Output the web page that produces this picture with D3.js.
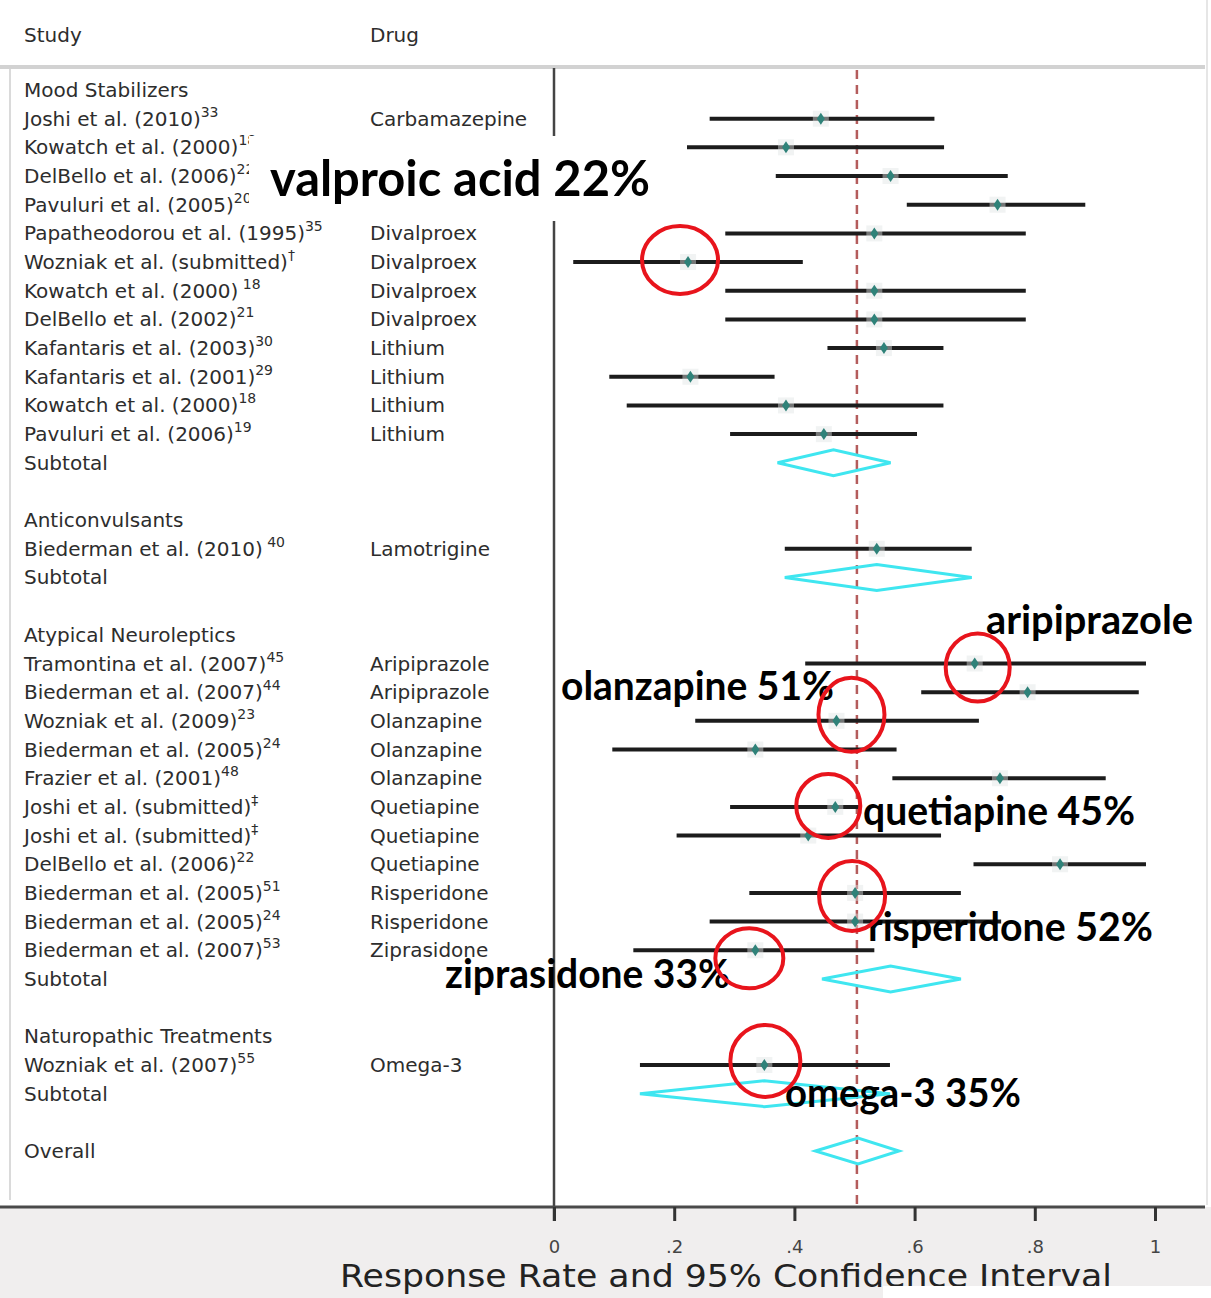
<!DOCTYPE html>
<html><head><meta charset="utf-8">
<script src="https://cdn.jsdelivr.net/npm/d3@7"></script>
<style>body{margin:0;background:#fff;overflow:hidden}</style>
</head><body>
<svg id="chart" width="1211" height="1298"></svg>
<script>
// ---------- data ----------
const rowLabels = ["Mood Stabilizers","Joshi et al. (2010)","Kowatch et al. (2000)","DelBello et al. (2006)","Pavuluri et al. (2005)","Papatheodorou et al. (1995)","Wozniak et al. (submitted)","Kowatch et al. (2000)","DelBello et al. (2002)","Kafantaris et al. (2003)","Kafantaris et al. (2001)","Kowatch et al. (2000)","Pavuluri et al. (2006)","Subtotal","","Anticonvulsants","Biederman et al. (2010)","Subtotal","","Atypical Neuroleptics","Tramontina et al. (2007)","Biederman et al. (2007)","Wozniak et al. (2009)","Biederman et al. (2005)","Frazier et al. (2001)","Joshi et al. (submitted)","Joshi et al. (submitted)","DelBello et al. (2006)","Biederman et al. (2005)","Biederman et al. (2005)","Biederman et al. (2007)","Subtotal","","Naturopathic Treatments","Wozniak et al. (2007)","Subtotal","","Overall"];
const rowSup = ["","33","18","22","20","35","\u2020"," 18","21","30","29","18","19","","",""," 40","","","","45","44","23","24","48","\u2021","\u2021","22","51","24","53","","","","55","","",""];
// drug names of rows 2-4 are covered by the "valproic acid" overlay in the reference
const rowDrugs = ["","Carbamazepine","","","","Divalproex","Divalproex","Divalproex","Divalproex","Lithium","Lithium","Lithium","Lithium","","","","Lamotrigine","","","","Aripiprazole","Aripiprazole","Olanzapine","Olanzapine","Olanzapine","Quetiapine","Quetiapine","Quetiapine","Risperidone","Risperidone","Ziprasidone","","","","Omega-3","","",""];
const rowKinds = ["head","study","study","study","study","study","study","study","study","study","study","study","study","sub","blank","head","study","sub","blank","head","study","study","study","study","study","study","study","study","study","study","study","sub","blank","head","study","sub","blank","sub"];
const rowEst  = [null,0.444,0.386,0.560,0.738,0.533,0.223,0.533,0.533,0.549,0.227,0.386,0.449,0.465,null,null,0.537,0.537,null,null,0.700,0.788,0.470,0.335,0.742,0.468,0.423,0.842,0.501,0.501,0.335,0.560,null,null,0.350,0.350,null,0.506];
const rowLow  = [null,0.259,0.221,0.369,0.587,0.285,0.032,0.285,0.285,0.455,0.092,0.121,0.293,0.372,null,null,0.384,0.384,null,null,0.418,0.611,0.235,0.097,0.563,0.293,0.204,0.698,0.325,0.259,0.132,0.446,null,null,0.143,0.143,null,0.435];
const rowHigh = [null,0.633,0.649,0.755,0.884,0.785,0.414,0.785,0.785,0.648,0.367,0.648,0.604,0.560,null,null,0.695,0.695,null,null,0.985,0.973,0.707,0.570,0.918,0.510,0.644,0.985,0.677,0.744,0.533,0.677,null,null,0.559,0.559,null,0.574];
const xTicks = [0, 0.2, 0.4, 0.6, 0.8, 1];
const xTickLabels = ["0", ".2", ".4", ".6", ".8", "1"];
const overallRate = 0.504;
const annoLabels = ["valproic acid 22%","aripiprazole","olanzapine 51%","quetiapine 45%","risperidone 52%","ziprasidone 33%","omega-3 35%"];
const circledRows = [6, 20, 22, 25, 28, 30, 34];

// ---------- drawing ----------
const svg = d3.select("#chart");
const W = 1211, H = 1298;
const x = d3.scaleLinear().domain([0, 1]).range([554, 1155]);
const y = d3.scaleLinear().domain([0, rowLabels.length - 1]).range([90, 1151]);
const axisY = 1207;
const rows = rowLabels.map((label, i) => ({i, label, sup: rowSup[i], drug: rowDrugs[i], kind: rowKinds[i], est: rowEst[i], lo: rowLow[i], hi: rowHigh[i]}));

svg.append("rect").attr("width", W).attr("height", H).attr("fill", "#fff");
svg.append("rect").attr("x", 0).attr("y", axisY).attr("width", W).attr("height", H - axisY).attr("fill", "#f0eeee");

// frame lines
svg.append("line").attr("x1", 0).attr("x2", 1205).attr("y1", 67).attr("y2", 67).attr("stroke", "#d2d2d2").attr("stroke-width", 4);
svg.append("line").attr("x1", 10).attr("x2", 10).attr("y1", 69).attr("y2", 1200).attr("stroke", "#dadada").attr("stroke-width", 2);
svg.append("line").attr("x1", 1207).attr("x2", 1207).attr("y1", 0).attr("y2", 1205).attr("stroke", "#e6e6e6").attr("stroke-width", 2);

const txtFont = "'DejaVu Sans', Verdana, sans-serif";
// headers
svg.append("text").attr("x", 24).attr("y", 42).text("Study").attr("font-family", txtFont).attr("font-size", 20).attr("fill", "#2d2d2d");
svg.append("text").attr("x", 370).attr("y", 42).text("Drug").attr("font-family", txtFont).attr("font-size", 20).attr("fill", "#2d2d2d");

// study labels
const lab = svg.append("g").attr("font-family", txtFont).attr("font-size", 20).attr("fill", "#2d2d2d");
rows.filter(d => d.kind !== "blank").forEach(d => {
  const t = lab.append("text").attr("x", 24).attr("y", y(d.i) + 7);
  t.append("tspan").text(d.label);
  if (d.sup) t.append("tspan").attr("font-size", 14).attr("dy", -9).text(d.sup);
  if (d.drug) lab.append("text").attr("x", 370).attr("y", y(d.i) + 7).text(d.drug);
});

// vertical zero axis
svg.append("line").attr("x1", x(0)).attr("x2", x(0)).attr("y1", 68).attr("y2", axisY + 14).attr("stroke", "#444").attr("stroke-width", 2.5);
// reference dashed line
svg.append("line").attr("x1", x(overallRate)).attr("x2", x(overallRate)).attr("y1", 70).attr("y2", axisY)
  .attr("stroke", "#b45c5c").attr("stroke-width", 2.5).attr("stroke-dasharray", "9,6");

// CI lines and markers
const studies = rows.filter(d => d.kind === "study");
svg.append("g").selectAll("line").data(studies).join("line")
  .attr("x1", d => x(d.lo)).attr("x2", d => x(d.hi)).attr("y1", d => y(d.i)).attr("y2", d => y(d.i))
  .attr("stroke", "#1c1c1c").attr("stroke-width", 4);
svg.append("g").selectAll("rect").data(studies).join("rect")
  .attr("x", d => x(d.est) - 8).attr("y", d => y(d.i) - 8).attr("width", 16).attr("height", 16)
  .attr("fill", "#dfe4e4").attr("opacity", 0.45);
svg.append("g").selectAll("path").data(studies).join("path")
  .attr("d", d => { const cx = x(d.est), cy = y(d.i); return `M${cx},${cy-6}L${cx+4},${cy}L${cx},${cy+6}L${cx-4},${cy}Z`; })
  .attr("fill", "#2f8279");

// subtotal diamonds
const subs = rows.filter(d => d.kind === "sub");
svg.append("g").selectAll("polygon").data(subs).join("polygon")
  .attr("points", d => [[x(d.lo), y(d.i)], [x(d.est), y(d.i) - 13], [x(d.hi), y(d.i)], [x(d.est), y(d.i) + 13]].map(p => p.join(",")).join(" "))
  .attr("fill", "none").attr("stroke", "#3fe6f0").attr("stroke-width", 3);

// x axis
svg.append("line").attr("x1", 0).attr("x2", 1205).attr("y1", axisY).attr("y2", axisY).attr("stroke", "#4a4a4a").attr("stroke-width", 3);
const ax = svg.append("g").attr("transform", `translate(0,${axisY})`)
  .call(d3.axisBottom(x).tickValues(xTicks).tickFormat((d, i) => xTickLabels[i]).tickSize(14).tickPadding(19));
ax.select(".domain").remove();
ax.selectAll(".tick line").attr("stroke", "#333").attr("stroke-width", 3);
ax.selectAll(".tick text").attr("font-family", txtFont).attr("font-size", 18).attr("fill", "#444");
svg.append("text").attr("x", 340).attr("y", 1287).attr("textLength", 772).attr("lengthAdjust", "spacingAndGlyphs")
  .attr("font-family", txtFont).attr("font-size", 32).attr("fill", "#222").text("Response Rate and 95% Confidence Interval");
svg.append("rect").attr("x", 883).attr("y", 1286).attr("width", W - 883).attr("height", H - 1286).attr("fill", "#fff");

// annotation overlay
svg.append("rect").attr("x", 249).attr("y", 136).attr("width", 438).attr("height", 85).attr("fill", "#fff");
const annoPos = [[270, 196, 380, 50], [986, 634, 207, 40], [561, 700, 273, 40], [863, 825, 272, 40], [868, 941, 285, 40], [445, 988, 285, 40], [785, 1107, 236, 40]];
annoLabels.forEach((t, k) => {
  const p = annoPos[k];
  svg.append("text").attr("x", p[0]).attr("y", p[1]).attr("textLength", p[2]).attr("lengthAdjust", "spacingAndGlyphs")
    .attr("font-family", "Lato, 'Open Sans', sans-serif").attr("font-weight", 700).attr("font-size", p[3]).attr("fill", "#000").text(t);
});
const circOff = [[-8, -2, 38, 34], [3, 4, 32, 34], [15, -6, 33, 37], [-7, -1, 32, 32], [-3, 3, 33, 35], [-6, 8, 34, 30], [1, -4, 35, 36]];
circledRows.forEach((r, k) => {
  const o = circOff[k];
  svg.append("ellipse").attr("cx", x(rowEst[r]) + o[0]).attr("cy", y(r) + o[1]).attr("rx", o[2]).attr("ry", o[3])
    .attr("fill", "none").attr("stroke", "#e8141c").attr("stroke-width", 4);
});
</script>
</body></html>
